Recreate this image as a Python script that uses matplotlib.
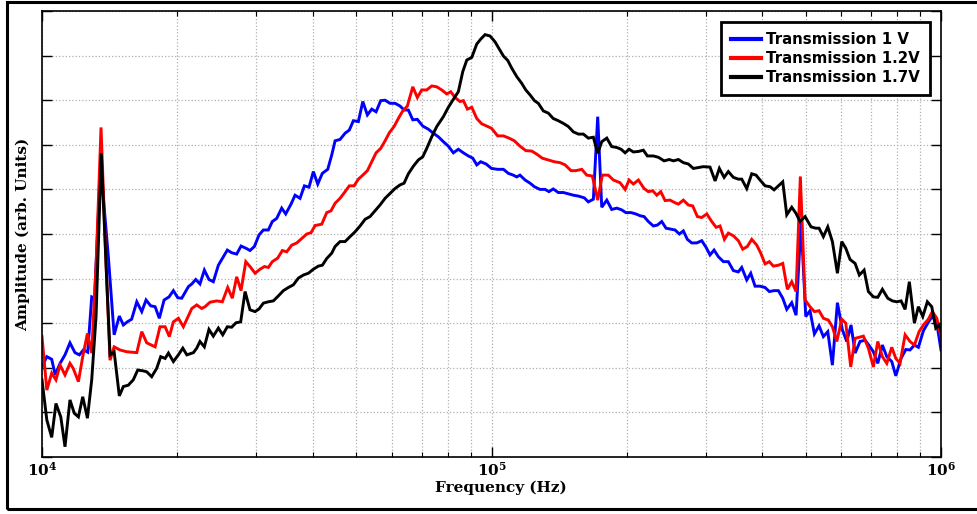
import numpy as np
import matplotlib
matplotlib.use("Agg")
import matplotlib.pyplot as plt
from matplotlib.ticker import FixedLocator, FuncFormatter, NullFormatter
from matplotlib.patches import Rectangle

# Measured transmission spectra (frequency in kHz, amplitude in arb. units)
freq_1v = [10.0, 10.25, 10.51, 10.70, 10.97, 11.25, 11.54, 11.84, 12.11, 12.36,
           12.64, 12.90, 13.09, 13.50, 14.05, 14.47, 14.86, 15.17, 15.48, 15.83,
           16.25, 16.67, 17.04, 17.45, 17.85, 18.24, 18.69, 19.17, 19.60, 20.05,
           20.46, 21.17, 21.54, 21.98, 22.46, 22.97, 23.52, 24.05, 24.68, 25.19,
           25.84, 26.42, 27.11, 27.72, 28.44, 29.02, 29.68, 30.4, 31.08, 31.88,
           32.54, 33.28, 34.14, 34.85, 35.81, 36.56, 37.50, 38.35, 39.27, 40.15,
           41.06, 42.04, 43.22, 44.11, 44.88, 46.03, 47.24, 48.27, 49.28, 50.56,
           51.72, 52.95, 54.15, 55.36, 56.70, 57.98, 59.46, 61.02, 62.58, 63.9,
           65.32, 66.81, 68.39, 70.31, 72.36, 74.24, 76.16, 78.14, 80.16, 82.25,
           84.38, 86.58, 88.83, 90.86, 92.73, 94.63, 97.26, 100.0, 103.2, 106.3,
           109.0, 111.8, 113.8, 115.7, 118.8, 121.8, 124.6, 128.2, 131.6, 134.2,
           137.2, 140.8, 144.5, 148.2, 152.1, 156.1, 160.9, 164.2, 168.5, 172.3,
           175.9, 180.5, 185.1, 190.0, 194.9, 199.0, 204.4, 209.4, 214.0, 218.5,
           223.3, 229.1, 233.9, 239.2, 244.5, 250.4, 256.1, 261.8, 267.2, 272.7,
           278.9, 286.2, 293.6, 300.2, 306.3, 312.7, 319.7, 328.0, 336.4, 345.2,
           354.1, 360.3, 369.7, 377.3, 385.8, 395.7, 406.1, 415.0, 425.3, 434.7,
           444.6, 453.8, 465.5, 476.0, 488.3, 500.2, 511.2, 522.8, 535.4, 547.4,
           559.9, 573.3, 588.2, 603.4, 617.2, 630.8, 644.0, 660.5, 677.9, 695.2,
           707.2, 723.3, 740.6, 757.5, 777.1, 793.3, 815.0, 835.0, 853.3, 872.6,
           890.6, 913.7, 934.4, 956.7, 978.6, 1000.0]
amp_1v = [2.02, 2.25, 2.19, 1.84, 2.10, 2.29, 2.56, 2.34, 2.29, 2.40,
          2.35, 3.59, 3.56, 6.55, 4.48, 2.74, 3.16, 2.96, 3.03, 3.09,
          3.48, 3.26, 3.52, 3.39, 3.37, 3.11, 3.52, 3.59, 3.73, 3.57,
          3.56, 3.82, 3.88, 3.98, 3.88, 4.19, 3.98, 3.93, 4.30, 4.45,
          4.64, 4.58, 4.55, 4.73, 4.68, 4.63, 4.72, 4.98, 5.09, 5.09,
          5.28, 5.35, 5.58, 5.45, 5.67, 5.87, 5.80, 6.08, 6.05, 6.40,
          6.12, 6.36, 6.45, 6.77, 7.09, 7.12, 7.26, 7.33, 7.54, 7.52,
          7.97, 7.67, 7.80, 7.74, 7.99, 8.00, 7.93, 7.93, 7.87, 7.78,
          7.78, 7.56, 7.57, 7.42, 7.35, 7.26, 7.18, 7.07, 6.97, 6.82,
          6.90, 6.82, 6.75, 6.70, 6.55, 6.62, 6.57, 6.47, 6.45, 6.45,
          6.36, 6.32, 6.28, 6.32, 6.21, 6.14, 6.06, 6.00, 6.00, 5.95,
          6.01, 5.93, 5.93, 5.90, 5.87, 5.85, 5.81, 5.72, 5.78, 7.63,
          5.60, 5.76, 5.55, 5.58, 5.54, 5.48, 5.48, 5.45, 5.41, 5.39,
          5.28, 5.18, 5.20, 5.28, 5.13, 5.11, 5.09, 5.00, 5.07, 4.88,
          4.80, 4.80, 4.85, 4.70, 4.53, 4.64, 4.49, 4.38, 4.38, 4.18,
          4.15, 4.25, 3.97, 4.12, 3.83, 3.83, 3.80, 3.71, 3.73, 3.73,
          3.56, 3.31, 3.46, 3.18, 5.27, 3.15, 3.28, 2.76, 2.94, 2.70,
          2.81, 2.06, 3.46, 2.85, 2.59, 2.96, 2.33, 2.59, 2.62, 2.47,
          2.36, 2.10, 2.51, 2.25, 2.14, 1.82, 2.21, 2.41, 2.40, 2.51,
          2.46, 2.83, 3.00, 3.16, 3.00, 2.40]

freq_12v = [10.0, 10.25, 10.51, 10.74, 10.97, 11.25, 11.54, 11.73, 12.05, 12.32,
            12.62, 12.90, 13.19, 13.53, 13.89, 14.17, 14.47, 14.91, 15.43, 16.25,
            16.67, 17.10, 17.85, 18.30, 18.79, 19.20, 19.60, 20.11, 20.63, 21.54,
            22.09, 22.66, 23.05, 23.64, 24.48, 25.19, 25.89, 26.51, 27.11, 27.72,
            28.40, 29.02, 29.79, 30.55, 31.24, 31.88, 32.54, 33.45, 34.25, 35.03,
            35.94, 36.88, 37.83, 38.82, 39.68, 40.51, 41.91, 43.0, 43.95, 44.88,
            46.03, 47.24, 48.27, 49.46, 50.56, 51.72, 52.95, 54.15, 55.36, 56.70,
            57.98, 59.25, 60.71, 62.05, 63.47, 64.99, 66.81, 68.39, 69.94, 71.77,
            73.63, 75.55, 77.50, 79.52, 81.15, 82.98, 85.10, 86.58, 88.38, 90.39,
            92.73, 95.12, 97.60, 100.0, 103.2, 106.3, 109.4, 112.4, 115.7, 119.2,
            122.9, 126.1, 129.7, 133.8, 138.0, 142.0, 145.8, 150.3, 154.0, 158.8,
            162.9, 167.6, 172.3, 176.4, 181.9, 186.7, 193.2, 198.3, 202.3, 206.8,
            212.2, 218.5, 223.3, 228.4, 233.2, 238.0, 243.3, 249.5, 256.1, 260.5,
            267.2, 274.1, 280.3, 287.1, 293.6, 301.3, 309.0, 316.0, 322.4, 329.7,
            336.4, 345.2, 354.1, 362.2, 370.8, 379.3, 389.2, 397.2, 406.1, 415.0,
            423.7, 434.7, 444.6, 455.2, 465.5, 476.0, 486.5, 498.5, 511.2, 522.8,
            535.4, 547.4, 561.6, 573.3, 586.4, 601.5, 614.0, 629.8, 644.0, 672.0,
            689.3, 707.2, 723.3, 740.6, 757.5, 777.1, 793.3, 810.7, 832.0, 853.3,
            872.6, 893.7, 913.7, 937.2, 956.7, 978.6, 1000.0]
amp_12v = [2.70, 1.50, 1.88, 1.73, 2.06, 1.84, 2.10, 1.99, 1.69, 2.25,
           2.77, 2.33, 4.28, 7.39, 4.28, 2.17, 2.47, 2.40, 2.36, 2.34,
           2.81, 2.56, 2.47, 2.92, 2.92, 2.70, 3.03, 3.11, 2.92, 3.33,
           3.41, 3.33, 3.37, 3.47, 3.50, 3.48, 3.80, 3.56, 4.04, 3.73,
           4.38, 4.27, 4.12, 4.21, 4.27, 4.25, 4.38, 4.46, 4.63, 4.60,
           4.75, 4.80, 4.90, 5.00, 5.03, 5.19, 5.22, 5.48, 5.52, 5.69,
           5.80, 5.95, 6.08, 6.08, 6.23, 6.32, 6.42, 6.62, 6.82, 6.92,
           7.09, 7.27, 7.41, 7.59, 7.76, 7.87, 8.30, 8.06, 8.23, 8.23,
           8.32, 8.30, 8.23, 8.14, 8.19, 8.06, 7.97, 7.99, 7.80, 7.84,
           7.59, 7.47, 7.42, 7.37, 7.20, 7.20, 7.15, 7.09, 6.97, 6.87,
           6.86, 6.79, 6.70, 6.66, 6.62, 6.60, 6.55, 6.42, 6.42, 6.45,
           6.32, 6.30, 5.76, 6.32, 6.32, 6.21, 6.15, 6.00, 6.21, 6.12,
           6.21, 6.02, 5.95, 5.97, 5.87, 5.95, 5.75, 5.76, 5.70, 5.67,
           5.76, 5.65, 5.63, 5.39, 5.37, 5.45, 5.28, 5.15, 5.18, 4.88,
           5.02, 4.96, 4.85, 4.66, 4.72, 4.88, 4.75, 4.57, 4.33, 4.38,
           4.28, 4.30, 4.34, 3.76, 3.93, 3.71, 6.29, 3.52, 3.37, 3.26,
           3.28, 3.11, 3.07, 2.92, 2.59, 3.09, 3.00, 2.02, 2.66, 2.71,
           2.44, 2.02, 2.59, 2.25, 2.10, 2.46, 2.21, 2.10, 2.74, 2.59,
           2.51, 2.81, 2.96, 3.09, 3.26, 3.11, 2.70]

freq_17v = [10.0, 10.25, 10.51, 10.74, 11.01, 11.25, 11.54, 11.80, 12.05, 12.32,
            12.62, 12.90, 13.19, 13.55, 13.89, 14.17, 14.47, 14.86, 15.17, 15.56,
            15.96, 16.33, 16.81, 17.10, 17.54, 18.0, 18.37, 18.79, 19.11, 19.60,
            20.11, 20.57, 21.0, 21.72, 22.09, 22.46, 22.97, 23.52, 24.05, 24.68,
            25.24, 25.84, 26.42, 27.02, 27.67, 28.30, 29.02, 29.79, 30.40, 31.08,
            31.88, 32.71, 33.55, 34.43, 35.32, 36.24, 37.18, 38.15, 39.14, 40.15,
            41.19, 42.04, 43.0, 44.11, 44.88, 46.03, 47.24, 48.44, 49.72, 51.0,
            52.34, 53.67, 55.08, 56.49, 57.98, 59.46, 61.02, 62.58, 63.90, 65.32,
            67.02, 68.74, 70.31, 71.77, 73.63, 75.55, 78.14, 80.16, 82.25, 84.38,
            86.31, 88.11, 90.39, 92.73, 94.63, 96.76, 99.24, 101.8, 103.9, 106.3,
            108.7, 110.9, 113.8, 116.7, 119.2, 121.8, 124.6, 127.1, 130.4, 133.8,
            137.2, 140.8, 144.5, 148.2, 152.1, 156.1, 160.1, 164.2, 168.5, 172.3,
            175.9, 180.5, 185.1, 190.0, 194.2, 198.3, 202.3, 206.8, 212.2, 217.7,
            222.2, 229.1, 235.1, 242.1, 248.6, 253.9, 260.5, 267.2, 274.1, 281.2,
            288.5, 296.0, 306.3, 314.4, 321.3, 329.2, 336.4, 345.2, 354.1, 360.3,
            369.7, 379.3, 387.8, 395.7, 406.1, 416.5, 425.3, 434.7, 444.6, 453.8,
            465.5, 476.0, 485.7, 498.5, 513.9, 526.5, 535.4, 547.4, 559.9, 573.3,
            588.2, 601.5, 614.0, 627.5, 644.0, 658.2, 674.4, 689.3, 707.2, 723.3,
            740.6, 761.3, 779.5, 797.3, 815.0, 832.0, 850.3, 872.6, 890.6, 910.9,
            932.5, 953.7, 973.6, 990.0, 1000.0]
amp_17v = [1.73, 0.83, 0.44, 1.20, 0.90, 0.23, 1.28, 0.98, 0.90, 1.35,
           0.87, 1.73, 3.15, 6.81, 4.27, 2.29, 2.36, 1.37, 1.58, 1.61,
           1.73, 1.95, 1.93, 1.91, 1.80, 1.99, 2.25, 2.21, 2.33, 2.14,
           2.29, 2.44, 2.29, 2.34, 2.44, 2.59, 2.47, 2.86, 2.71, 2.89,
           2.74, 2.92, 2.91, 3.01, 3.03, 3.71, 3.30, 3.26, 3.32, 3.45,
           3.48, 3.50, 3.61, 3.73, 3.80, 3.86, 4.01, 4.08, 4.12, 4.21,
           4.28, 4.30, 4.45, 4.57, 4.72, 4.83, 4.83, 4.94, 5.05, 5.18,
           5.33, 5.39, 5.52, 5.65, 5.80, 5.91, 6.02, 6.10, 6.14, 6.35,
           6.52, 6.66, 6.73, 6.92, 7.18, 7.41, 7.63, 7.84, 8.02, 8.19,
           8.64, 8.90, 8.96, 9.26, 9.37, 9.47, 9.44, 9.31, 9.16, 8.99,
           8.89, 8.72, 8.53, 8.38, 8.23, 8.12, 7.99, 7.93, 7.76, 7.71,
           7.59, 7.54, 7.48, 7.41, 7.29, 7.24, 7.24, 7.15, 7.17, 6.81,
           7.07, 7.15, 6.96, 6.94, 6.90, 6.82, 6.90, 6.84, 6.85, 6.88,
           6.75, 6.75, 6.72, 6.64, 6.67, 6.64, 6.67, 6.60, 6.57, 6.47,
           6.49, 6.51, 6.50, 6.19, 6.47, 6.27, 6.40, 6.27, 6.23, 6.23,
           6.02, 6.35, 6.32, 6.21, 6.08, 6.06, 5.99, 6.08, 6.17, 5.43,
           5.60, 5.46, 5.28, 5.39, 5.16, 5.13, 5.13, 4.94, 5.16, 4.83,
           4.12, 4.83, 4.68, 4.43, 4.34, 4.08, 4.19, 3.71, 3.59, 3.58,
           3.76, 3.56, 3.50, 3.48, 3.50, 3.31, 3.93, 3.00, 3.37, 3.15,
           3.48, 3.37, 2.89, 2.96, 2.83]

series = [
    ("Transmission 1 V", freq_1v, amp_1v, "#0000ff"),
    ("Transmission 1.2V", freq_12v, amp_12v, "#ff0000"),
    ("Transmission 1.7V", freq_17v, amp_17v, "#000000"),
]

plt.rcParams["mathtext.fontset"] = "dejavuserif"

fig = plt.figure(figsize=(9.77, 5.14), dpi=100)
ax = fig.add_axes([42 / 977, 57 / 514, 899 / 977, 446 / 514])

for label, f, a, c in series:
    ax.plot(np.array(f) * 1e3, a, color=c, lw=2.1, label=label,
            solid_joinstyle="miter")

ax.set_xscale("log")
ax.set_xlim(1e4, 1e6)
ax.set_ylim(0, 10)

ax.xaxis.set_major_locator(FixedLocator([1e4, 1e5, 1e6]))
ax.xaxis.set_major_formatter(
    FuncFormatter(lambda v, p: r"$\mathbf{10^{%d}}$" % round(np.log10(v))))
ax.xaxis.set_minor_locator(FixedLocator(
    [m * 10 ** e for e in (4, 5) for m in range(2, 10)]))
ax.xaxis.set_minor_formatter(NullFormatter())
ax.set_yticks(np.arange(0, 11, 1))
ax.set_yticklabels([])

ax.tick_params(which="both", direction="in", top=True, right=True,
               colors="black")
ax.tick_params(which="major", length=7, width=1.0)
ax.tick_params(which="minor", length=3.5, width=0.8)
ax.tick_params(axis="x", which="major", labelsize=11, pad=3)

ax.grid(True, which="major", axis="both", linestyle=":", color="#b0b0b0",
        linewidth=0.9)
ax.grid(True, which="minor", axis="x", linestyle=":", color="#b0b0b0",
        linewidth=0.9)

for s in ax.spines.values():
    s.set_linewidth(1.2)
    s.set_color("black")

ax.set_xlabel("Frequency (Hz)", fontsize=11, fontweight="bold",
              family="DejaVu Serif")
ax.xaxis.set_label_coords(0.5106, -0.052)
ax.set_ylabel("Amplitude (arb. Units)", fontsize=11, fontweight="bold",
              family="DejaVu Serif", labelpad=5)

leg = ax.legend(loc="upper right", prop={"family": "DejaVu Sans",
                                         "weight": "bold", "size": 10.8},
                frameon=True, fancybox=False, framealpha=1,
                edgecolor="black", handlelength=2.0, handletextpad=0.35,
                labelspacing=0.28, borderpad=0.65, borderaxespad=0.75)
leg.get_frame().set_linewidth(2.0)
for h in leg.get_lines():
    h.set_linewidth(3.0)

# outer frame around the whole figure
fig.patches.append(Rectangle((7 / 977, 5.5 / 514), 1.0, 506.5 / 514,
                             transform=fig.transFigure, fill=False,
                             edgecolor="black", linewidth=2.2,
                             clip_on=False))

fig.savefig("out.png", dpi=100)
